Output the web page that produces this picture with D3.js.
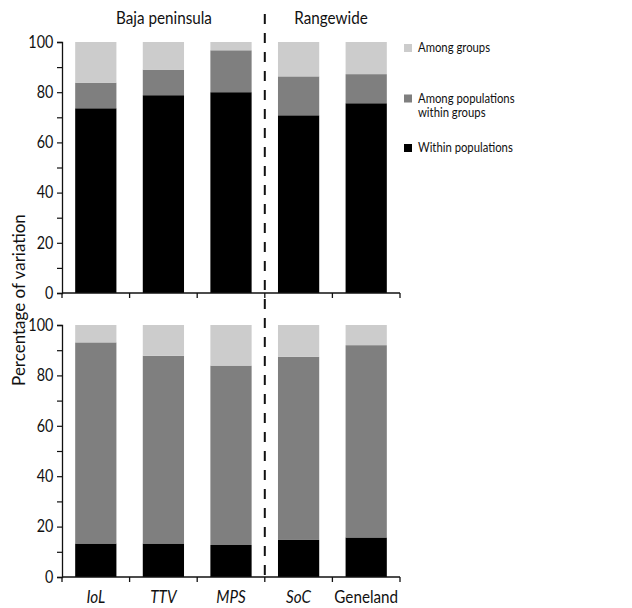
<!DOCTYPE html>
<html lang="en">
<head>
  <meta charset="utf-8">
  <title>AMOVA variation</title>
  <script src="https://cdn.jsdelivr.net/npm/d3@7"></script>
  <style>
    body { margin: 0; background: #fff; }
    text { font-family: Lato, "Open Sans", sans-serif; fill: #111; }
  </style>
</head>
<body>
  <script type="text/javascript">
    // methods along the x axis (first four are written in italics)
    var methods = ["IoL", "TTV", "MPS", "SoC", "Geneland"];
    var italicMethods = ["IoL", "TTV", "MPS", "SoC"];
    var groupTitles = ["Baja peninsula", "Rangewide"];
    var seriesNames = ["Within populations", "Among populations within groups", "Among groups"];

    // top panel
    var topWithin = [73.6, 78.8, 80.0, 70.8, 75.6];
    var topAmongPops = [10.2, 10.2, 16.7, 15.5, 11.6];
    var topAmongGroups = [16.2, 11.0, 3.3, 13.7, 12.8];

    // bottom panel
    var bottomWithin = [13.3, 13.3, 12.7, 14.7, 15.7];
    var bottomAmongPops = [79.8, 74.5, 71.2, 72.7, 76.3];
    var bottomAmongGroups = [6.9, 12.2, 16.1, 12.6, 8.0];

    var colors = ["#000000", "#7f7f7f", "#cccccc"];
    var squeeze = 0.87; // the original font is narrow, so text is squeezed a bit

    var svg = d3.select("body").append("svg").attr("width", 632).attr("height", 608);

    var x = d3.scaleBand().domain(methods).range([62, 400])
      .paddingInner(0.39).paddingOuter(0.195);

    function toRows(a, b, c) {
      return methods.map(function(m, i) { return {m: m, w: a[i], p: b[i], g: c[i]}; });
    }
    var stack = d3.stack().keys(["w", "p", "g"]);

    function placeText(sel, fx, fy) {
      return sel.attr("transform", function(d, i) {
        return "translate(" + fx(d, i) + "," + fy(d, i) + ") scale(" + squeeze + ",1)";
      });
    }

    function panel(rows, y0, y1, showLabels) {
      var y = d3.scaleLinear().domain([0, 100]).range([y1, y0]);
      var g = svg.append("g");

      var layers = stack(rows);
      g.selectAll("g.layer").data(layers).enter().append("g")
        .attr("fill", function(d, i) { return colors[i]; })
        .selectAll("rect").data(function(d) { return d; }).enter().append("rect")
        .attr("x", function(d) { return x(d.data.m); })
        .attr("width", x.bandwidth())
        .attr("y", function(d) { return y(d[1]); })
        .attr("height", function(d) { return y(d[0]) - y(d[1]); });

      // y axis, minor ticks every 10
      var ya = g.append("g").attr("transform", "translate(62,0)")
        .call(d3.axisLeft(y).tickValues(d3.range(0, 101, 10)).tickSize(5).tickPadding(5)
          .tickFormat(function(d) { return d % 20 == 0 ? d : ""; }));
      ya.select(".domain").attr("stroke", "#111").attr("stroke-width", 1.3);
      ya.selectAll(".tick line").attr("stroke", "#111").attr("stroke-width", 1.2);
      ya.selectAll(".tick text").style("font-size", "16.5px").attr("fill", "#111")
        .style("font-family", "Lato, sans-serif")
        .attr("transform", "scale(" + squeeze + ",1)");

      // x axis with ticks on the band edges
      var step = x.step();
      var bounds = d3.range(methods.length + 1).map(function(i) { return 62 + i * step; });
      g.append("line").attr("x1", 62).attr("x2", 400).attr("y1", y1).attr("y2", y1)
        .attr("stroke", "#111").attr("stroke-width", 1.5);
      g.selectAll("line.xt").data(bounds).enter().append("line")
        .attr("x1", function(d) { return d; }).attr("x2", function(d) { return d; })
        .attr("y1", y1).attr("y2", y1 + 5).attr("stroke", "#111").attr("stroke-width", 1.3);

      if (showLabels) {
        var xl = g.selectAll("text.xl").data(methods).enter().append("text")
          .attr("text-anchor", "middle")
          .style("font-size", "17.5px")
          .style("font-style", function(d) { return italicMethods.indexOf(d) >= 0 ? "italic" : "normal"; })
          .text(function(d) { return d; });
        placeText(xl, function(d) { return x(d) + x.bandwidth() / 2; }, function() { return y1 + 26; });
      }
      return y;
    }

    panel(toRows(topWithin, topAmongPops, topAmongGroups), 42, 293, false);
    panel(toRows(bottomWithin, bottomAmongPops, bottomAmongGroups), 325, 577, true);

    // dashed separator
    var sepX = 62 + 3 * x.step();
    svg.append("line").attr("x1", sepX).attr("x2", sepX).attr("y1", 14).attr("y2", 577)
      .attr("stroke", "#111").attr("stroke-width", 2).attr("stroke-dasharray", "10,9");

    // group titles
    var gt = svg.selectAll("text.gt").data(groupTitles).enter().append("text")
      .attr("text-anchor", "middle")
      .style("font-size", "17.5px")
      .text(function(d) { return d; });
    placeText(gt, function(d, i) { return i == 0 ? 164 : 331; }, function() { return 24; });

    // y label
    svg.append("text")
      .attr("transform", "translate(25,300) rotate(-90)")
      .attr("text-anchor", "middle")
      .style("font-size", "17px")
      .text("Percentage of variation");

    // legend, top to bottom: among groups, among pops, within
    var legendY = [48, 98.5, 148];
    var leg = svg.selectAll("g.leg").data([2, 1, 0]).enter().append("g")
      .attr("transform", function(d, i) { return "translate(404," + legendY[i] + ")"; });
    leg.append("rect").attr("x", 0).attr("y", -4).attr("width", 8).attr("height", 8)
      .attr("fill", function(d) { return colors[d]; });
    leg.each(function(d) {
      var t = d3.select(this).append("text")
        .attr("transform", "translate(14,4) scale(" + squeeze + ",1)")
        .style("font-size", "13px");
      if (d == 1) {
        t.append("tspan").attr("x", 0).text("Among populations");
        t.append("tspan").attr("x", 0).attr("dy", 15).text("within groups");
      } else {
        t.text(seriesNames[d]);
      }
    });
  </script>
</body>
</html>
